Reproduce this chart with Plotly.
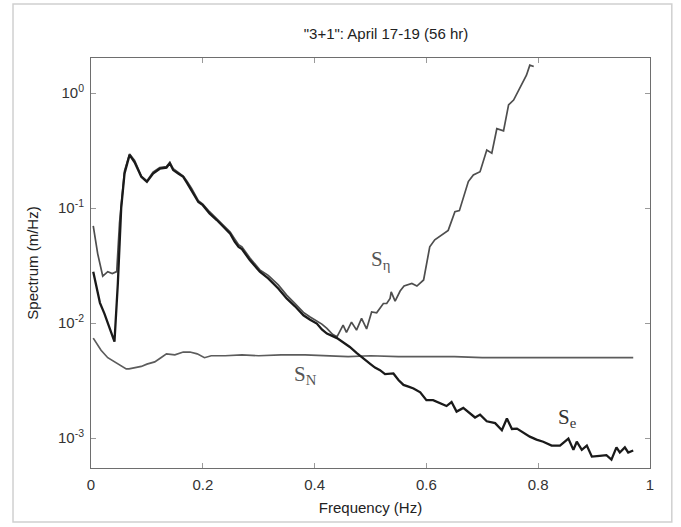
import math
import plotly.graph_objects as go

# ---- data ----
f_e = [0.004, 0.010, 0.016, 0.024, 0.033, 0.042, 0.048, 0.054, 0.060, 0.069, 0.078, 0.090, 0.100,
       0.111, 0.123, 0.135, 0.141, 0.147, 0.156, 0.165, 0.172, 0.180, 0.192, 0.200, 0.212, 0.225,
       0.237, 0.249, 0.257, 0.264, 0.270, 0.284, 0.302, 0.317, 0.335, 0.350, 0.365, 0.380, 0.392,
       0.404, 0.413, 0.422, 0.440, 0.452, 0.463, 0.475, 0.487, 0.500, 0.508, 0.517, 0.526, 0.541,
       0.550, 0.559, 0.568, 0.577, 0.589, 0.600, 0.612, 0.624, 0.636, 0.645, 0.654, 0.666, 0.678,
       0.687, 0.696, 0.708, 0.723, 0.735, 0.744, 0.753, 0.762, 0.772, 0.785, 0.797, 0.809, 0.824,
       0.839, 0.854, 0.863, 0.869, 0.878, 0.887, 0.896, 0.910, 0.922, 0.931, 0.940, 0.946, 0.955,
       0.961, 0.970]
s_e = [0.028, 0.020, 0.015, 0.0121, 0.0092, 0.0069, 0.022, 0.10, 0.20, 0.29, 0.25, 0.187, 0.169,
       0.20, 0.22, 0.225, 0.245, 0.214, 0.20, 0.187, 0.165, 0.143, 0.113, 0.106, 0.090, 0.0787,
       0.068, 0.060, 0.051, 0.046, 0.044, 0.0353, 0.028, 0.0245, 0.020, 0.0164, 0.014, 0.0117, 0.0107,
       0.0099, 0.0088, 0.0081, 0.0074, 0.0067, 0.0062, 0.0055, 0.0049, 0.0044, 0.0041, 0.0039, 0.0036,
       0.00365, 0.0032, 0.0029, 0.0028, 0.0027, 0.0025, 0.00214, 0.00214, 0.0020, 0.0019, 0.00206,
       0.0017, 0.00183, 0.00165, 0.00151, 0.0016, 0.0014, 0.00135, 0.00117, 0.00148, 0.0012, 0.00121,
       0.00112, 0.00103, 0.00097, 0.00093, 0.00086, 0.00086, 0.00099, 0.00079, 0.00093, 0.00079,
       0.00086, 0.00069, 0.00070, 0.00071, 0.00065, 0.00083, 0.00075, 0.00083, 0.00075, 0.00078]

f_eta = [0.004, 0.012, 0.021, 0.030, 0.038, 0.046, 0.051, 0.055, 0.060, 0.069, 0.078, 0.090, 0.100,
         0.111, 0.123, 0.135, 0.141, 0.147, 0.156, 0.165, 0.172, 0.180, 0.192, 0.200, 0.212, 0.225,
         0.237, 0.249, 0.257, 0.264, 0.270, 0.284, 0.302, 0.317, 0.335, 0.350, 0.365, 0.380, 0.392,
         0.404, 0.413, 0.422, 0.432, 0.440, 0.451, 0.457, 0.466, 0.475, 0.484, 0.493, 0.502, 0.511,
         0.523, 0.529, 0.535, 0.537, 0.544, 0.553, 0.560, 0.574, 0.583, 0.595, 0.606, 0.615, 0.627,
         0.639, 0.651, 0.659, 0.675, 0.684, 0.696, 0.708, 0.717, 0.726, 0.738, 0.747, 0.756, 0.767,
         0.779, 0.785, 0.792]
s_eta = [0.070, 0.040, 0.0256, 0.028, 0.027, 0.028, 0.074, 0.12, 0.21, 0.295, 0.26, 0.19, 0.172,
         0.205, 0.225, 0.23, 0.25, 0.22, 0.205, 0.19, 0.17, 0.148, 0.116, 0.108, 0.093, 0.081,
         0.071, 0.062, 0.054, 0.048, 0.046, 0.037, 0.029, 0.026, 0.0215, 0.0175, 0.0148, 0.0124, 0.0113,
         0.0104, 0.0098, 0.0090, 0.0080, 0.0076, 0.0096, 0.0083, 0.0102, 0.0087, 0.011, 0.0089, 0.0125,
         0.0123, 0.0148, 0.0148, 0.0164, 0.0187, 0.0155, 0.019, 0.021, 0.0221, 0.021, 0.0237, 0.046,
         0.053, 0.058, 0.064, 0.093, 0.095, 0.17, 0.194, 0.207, 0.32, 0.30, 0.49, 0.47, 0.79, 0.87,
         1.1, 1.43, 1.75, 1.7]

f_n = [0.004, 0.018, 0.030, 0.042, 0.055, 0.063, 0.068, 0.080, 0.090, 0.100, 0.114, 0.125, 0.135,
       0.150, 0.165, 0.177, 0.190, 0.203, 0.215, 0.240, 0.270, 0.300, 0.340, 0.383, 0.420, 0.460,
       0.500, 0.550, 0.600, 0.650, 0.700, 0.750, 0.800, 0.850, 0.900, 0.970]
s_n = [0.0074, 0.0058, 0.0050, 0.0046, 0.0042, 0.0040, 0.0040, 0.0041, 0.0042, 0.0044, 0.0046,
       0.0050, 0.0054, 0.0053, 0.0056, 0.0056, 0.0054, 0.0050, 0.0052, 0.0052, 0.0053, 0.0052,
       0.0053, 0.0053, 0.0052, 0.0051, 0.0052, 0.0051, 0.0051, 0.0051, 0.0050, 0.0050, 0.0050,
       0.0050, 0.0050, 0.0050]

x_ticks = [0, 0.2, 0.4, 0.6, 0.8, 1]
x_ticktext = ["0", "0.2", "0.4", "0.6", "0.8", "1"]
y_ticks = [1e-3, 1e-2, 1e-1, 1e0]
y_ticktext = ["10<sup>-3</sup>", "10<sup>-2</sup>", "10<sup>-1</sup>", "10<sup>0</sup>"]

labels = [("S<sub>η</sub>", 0.517, 0.0353, "#555555"),
          ("S<sub>N</sub>", 0.383, 0.00353, "#555555"),
          ("S<sub>e</sub>", 0.853, 0.0015, "#333333")]

fig = go.Figure()
fig.add_trace(go.Scatter(x=f_n, y=s_n, mode="lines", line=dict(color="#5c5c5c", width=1.7),
                         showlegend=False, hoverinfo="skip"))
fig.add_trace(go.Scatter(x=f_eta, y=s_eta, mode="lines", line=dict(color="#4e4e4e", width=1.7),
                         showlegend=False, hoverinfo="skip"))
fig.add_trace(go.Scatter(x=f_e, y=s_e, mode="lines", line=dict(color="#1a1a1a", width=2.3),
                         showlegend=False, hoverinfo="skip"))

for txt, fx, fy, col in labels:
    fig.add_annotation(x=fx, y=math.log10(fy), yref="y", xref="x", text=txt, showarrow=False,
                       font=dict(family="Liberation Serif, Times New Roman, serif", size=21, color=col))

axis_common = dict(showline=True, linecolor="#6e6e6e", linewidth=1, mirror="ticks",
                   ticks="inside", ticklen=5, tickcolor="#9a9a9a", showgrid=False, zeroline=False,
                   ticklabelstandoff=3,
                   tickfont=dict(family="Liberation Sans, Arial, sans-serif", size=15, color="#333333"))

fig.update_layout(
    width=681, height=527,
    margin=dict(l=91, r=31, t=58, b=59),
    paper_bgcolor="white", plot_bgcolor="white",
    title=dict(text="\"3+1\": April 17-19 (56 hr)", x=(386 / 681), xanchor="center", y=1 - 34 / 527,
               yanchor="middle",
               font=dict(family="Liberation Sans, Arial, sans-serif", size=15, color="#222222")),
    xaxis=dict(range=[0, 1], tickvals=x_ticks, ticktext=x_ticktext,
               title=dict(text="Frequency (Hz)", standoff=10,
                          font=dict(family="Liberation Sans, Arial, sans-serif", size=15, color="#222222")),
               **axis_common),
    yaxis=dict(type="log", range=[-3.26, 0.305], tickvals=y_ticks, ticktext=y_ticktext,
               title=dict(text="Spectrum (m/Hz)", standoff=15,
                          font=dict(family="Liberation Sans, Arial, sans-serif", size=15, color="#222222")),
               **axis_common),
    shapes=[dict(type="rect", xref="paper", yref="paper", x0=-0.1395, x1=1.039, y0=-0.1317, y1=1.1317,
                 line=dict(color="#d0d0d0", width=1.5), layer="below")],
)

fig.write_html("out.html", config={"displayModeBar": False},
               post_script="document.body.style.margin='0';")
